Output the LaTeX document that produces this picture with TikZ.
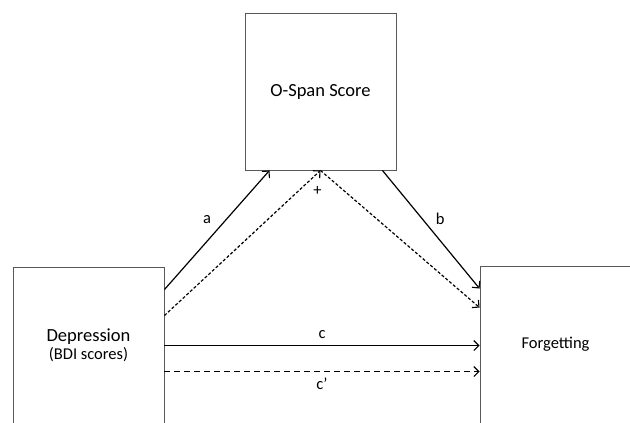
\documentclass[tikz,border=0pt]{standalone}
\usepackage{fontspec}
\setmainfont{Carlito}
\usetikzlibrary{calc, arrows.meta}

\begin{document}
\begin{tikzpicture}[x=1pt, y=-1pt,
	box/.style={draw=black!65, line width=0.9pt, minimum width=151pt, minimum height=157pt, inner sep=0pt, align=center},
	arr/.style={-{Straight Barb[length=5pt, width=10pt, line width=1.1pt]}, line width=1.2pt, black},
	dsh/.style={arr, dash pattern=on 3pt off 2pt},
	lbl/.style={font=\fontsize{16.5}{18}\selectfont}]

	\useasboundingbox (0,0) rectangle (630,423);

	\node[box, font=\fontsize{18.5}{20}\selectfont] (osp) at (320.5,91.5) {O-Span Score};
	\node[box] (dep) at (88.5,345.5) {\fontsize{18.5}{20}\selectfont Depression\\[2pt]\fontsize{16.5}{18}\selectfont (BDI scores)};
	\node[box, font=\fontsize{16.5}{18}\selectfont] (fgt) at (555.5,344.5) {Forgetting};

	\draw[arr] ([yshift=-23pt]dep.north east) -- ([xshift=-51pt]osp.south) node[lbl, midway, above left=2pt] {a};
	\draw[dsh] ([yshift=-49pt]dep.north east) -- (osp.south) node[lbl, below=12pt, xshift=-3pt, pos=1] {+};
	\draw[dsh] (osp.south) -- ([yshift=-42pt]fgt.north west);
	\draw[arr] ([xshift=-14pt]osp.south east) -- ([yshift=-23pt]fgt.north west) node[lbl, midway, above right=1pt] {b};

	\draw[arr] (dep.east) -- (fgt.west |- dep.east) node[lbl, midway, above=3pt] {c};
	\draw[arr, dash pattern=on 6pt off 4pt] ([yshift=-26pt]dep.east) -- ([yshift=-26pt]dep.east -| fgt.west) node[lbl, midway, below=2pt] {c'};

\end{tikzpicture}
\end{document}
